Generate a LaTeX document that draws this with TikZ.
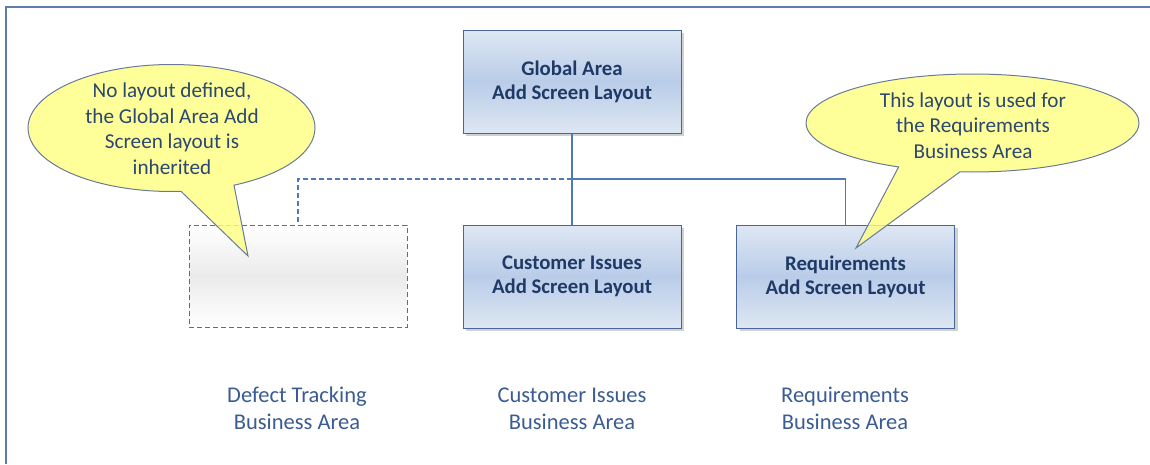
\documentclass[tikz,border=0pt]{standalone}
\usepackage{fontspec}
\setmainfont{Carlito}
\usetikzlibrary{shapes.callouts,shadows}
\definecolor{frameC}{RGB}{95,125,170}
\definecolor{boxBorder}{RGB}{72,102,150}
\definecolor{boxText}{RGB}{31,58,102}
\definecolor{boxTop}{RGB}{222,231,243}
\definecolor{boxMid}{RGB}{185,204,232}
\definecolor{connC}{RGB}{80,122,182}
\definecolor{lblC}{RGB}{58,92,146}
\definecolor{calloutFill}{RGB}{255,255,128}
\definecolor{calloutBorder}{RGB}{105,122,152}
\definecolor{calloutText}{RGB}{42,72,112}
\definecolor{dashBorder}{RGB}{80,110,160}
\begin{document}
\begin{tikzpicture}[x=1pt,y=-1pt,
  frameline/.style={draw=frameC, line width=1.3pt},
  layoutbox/.style={draw=boxBorder, line width=1pt, minimum width=218pt, minimum height=103pt,
    top color=boxTop, bottom color=boxTop, middle color=boxMid, align=center,
    text=boxText, font=\fontsize{20.8}{24}\selectfont\bfseries,
    drop shadow={shadow xshift=3pt, shadow yshift=-3pt, opacity=0.3, fill=black!60}},
  emptybox/.style={draw=dashBorder, dash pattern=on 5pt off 3pt, line width=1pt, minimum width=218pt, minimum height=102pt,
    top color=white, bottom color=white, middle color=black!8},
  conn/.style={draw=connC, line width=1.2pt},
  dconn/.style={draw=connC, dash pattern=on 5pt off 3pt, line width=1.2pt},
  bubble/.style={ellipse callout, draw=calloutBorder, line width=1pt, fill=calloutFill,
    fill opacity=0.8, draw opacity=1, inner sep=0pt, callout pointer arc=22},
  bubbletext/.style={align=center, text=calloutText, font=\fontsize{21.2}{25.5}\selectfont},
  arealabel/.style={align=center, text=lblC, font=\fontsize{22.5}{27}\selectfont}
]
\useasboundingbox (0,0) rectangle (1150,464);
\draw[frameline] (6,464) -- (6,7) -- (1150,7);

\node[layoutbox] (global) at (572,81.5) {Global Area\\Add Screen Layout};
\node[layoutbox] (cust) at (572,276.5) {Customer Issues\\Add Screen Layout};
\node[layoutbox] (req) at (845.5,276.5) {Requirements\\Add Screen Layout};
\node[emptybox] (dflt) at (298,276) {};

\coordinate (j) at (572,179);
\draw[conn] (global.south) -- (j) -- (cust.north);
\draw[conn] (j) -| (req.north);
\draw[dconn] (j) -| (dflt.north);

\node[arealabel] (l1) at (297,408.5) {Defect Tracking\\Business Area};
\node[arealabel] (l2) at (572,408.5) {Customer Issues\\Business Area};
\node[arealabel] (l3) at (845,408.5) {Requirements\\Business Area};

\node[bubble, minimum width=287pt, minimum height=127pt, callout absolute pointer={(248,256)}] (c1) at (171.5,128) {};
\node[bubbletext] (c1t) at (172,128.5) {No layout defined,\\the Global Area Add\\Screen layout is\\inherited};

\node[bubble, minimum width=333pt, minimum height=98pt, callout absolute pointer={(856,248)}] (c2) at (972.5,123) {};
\node[bubbletext] (c2t) at (973,125.5) {This layout is used for\\the Requirements\\Business Area};
\end{tikzpicture}
\end{document}
